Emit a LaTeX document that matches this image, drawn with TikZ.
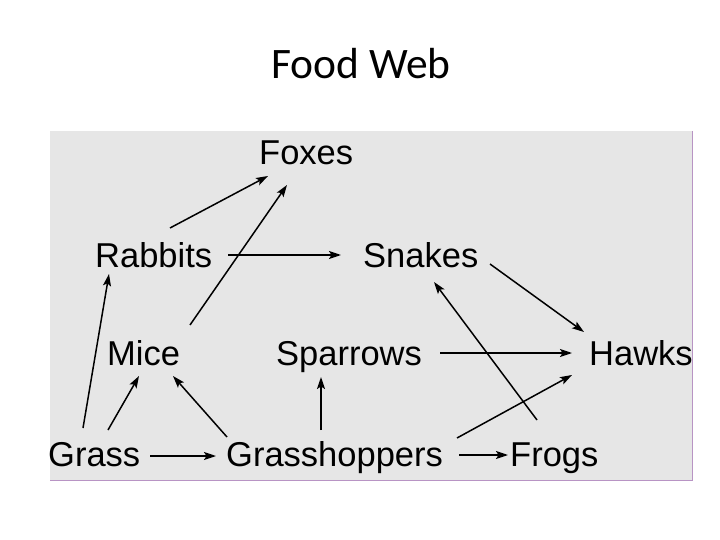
\documentclass[tikz,border=0pt]{standalone}
\usepackage{fontspec}
\setmainfont{Liberation Sans}
\newfontfamily\titlefont{Carlito}
\usetikzlibrary{arrows.meta}
\definecolor{panelgray}{HTML}{E6E6E6}
\definecolor{paneledge}{HTML}{B894C4}
\begin{document}
\begin{tikzpicture}[x=1pt,y=-1pt,
  species/.style={anchor=base west,inner sep=0pt,font=\fontsize{34.5}{40}\selectfont,text=black},
  feeds/.style={line width=1.5pt,-{Stealth[length=12pt,width=8pt,inset=2.5pt]}}]
\useasboundingbox (0,0) rectangle (720,540);
\fill[white] (0,0) rectangle (720,540);
% title
\node[anchor=base,inner sep=0pt,font=\titlefont\fontsize{43.5}{48}\selectfont] (title) at (361,79) {Food Web};
% panel
\fill[panelgray] (50,131) rectangle (692,480);
\draw[paneledge,line width=1pt] (692,131) -- (692,480) -- (50,480);
% species
\node[species] (Foxes) at (259,165) {Foxes};
\node[species] (Rabbits) at (95,267) {Rabbits};
\node[species] (Snakes) at (363,267) {Snakes};
\node[species] (Mice) at (107,365) {Mice};
\node[species] (Sparrows) at (276,365) {Sparrows};
\node[species] (Hawks) at (589,365) {Hawks};
\node[species] (Grass) at (48,466) {Grass};
\node[species] (Grasshoppers) at (226,466) {Grasshoppers};
\node[species] (Frogs) at (510,466) {Frogs};
% connectors
\draw[feeds] ([shift={(75,-39)}]Rabbits.base west) -- ([shift={(9,11)}]Foxes.base west);
\draw[feeds] ([shift={(83,-40)}]Mice.base west) -- ([shift={(28,20)}]Foxes.base west);
\draw[feeds] ([shift={(133,-12)}]Rabbits.base west) -- ([shift={(-22,-12)}]Snakes.base west);
\draw[feeds] ([shift={(35,-38)}]Grass.base west) -- ([shift={(14,7)}]Rabbits.base west);
\draw[feeds] ([shift={(60,-36)}]Grass.base west) -- ([shift={(32,11)}]Mice.base west);
\draw[feeds] ([shift={(1,-29)}]Grasshoppers.base west) -- ([shift={(66,11)}]Mice.base west);
\draw[feeds] ([shift={(102,-10)}]Grass.base west) -- ([shift={(-10,-10)}]Grasshoppers.base west);
\draw[feeds] ([shift={(95,-36)}]Grasshoppers.base west) -- ([shift={(45,12)}]Sparrows.base west);
\draw[feeds] ([shift={(233,-11)}]Grasshoppers.base west) -- ([shift={(-2,-11)}]Frogs.base west);
\draw[feeds] ([shift={(231,-28)}]Grasshoppers.base west) -- ([shift={(-17,10)}]Hawks.base west);
\draw[feeds] ([shift={(164,-12)}]Sparrows.base west) -- ([shift={(-17,-12)}]Hawks.base west);
\draw[feeds] ([shift={(127,-3)}]Snakes.base west) -- ([shift={(-5,-33)}]Hawks.base west);
\draw[feeds] ([shift={(27,-46)}]Frogs.base west) -- ([shift={(71,15)}]Snakes.base west);
\end{tikzpicture}
\end{document}
